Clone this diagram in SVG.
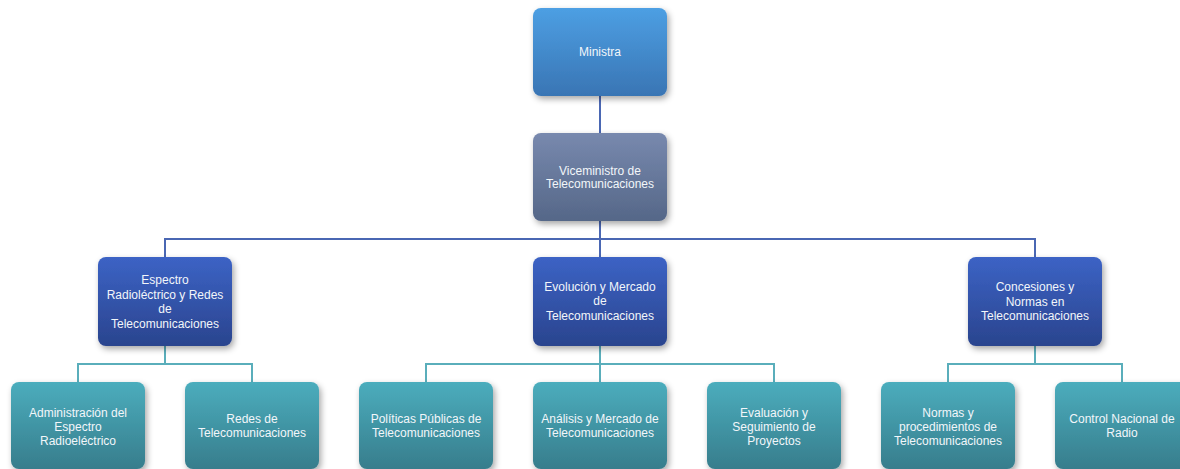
<svg xmlns="http://www.w3.org/2000/svg" width="1180" height="469" viewBox="0 0 1180 469">
<defs>
<linearGradient id="gMin" x1="0" y1="0" x2="0" y2="1"><stop offset="0" stop-color="#4d9fe3"/><stop offset="1" stop-color="#3975b4"/></linearGradient>
<linearGradient id="gVice" x1="0" y1="0" x2="0" y2="1"><stop offset="0" stop-color="#7889ae"/><stop offset="1" stop-color="#556788"/></linearGradient>
<linearGradient id="gL2" x1="0" y1="0" x2="0" y2="1"><stop offset="0" stop-color="#3c63c5"/><stop offset="1" stop-color="#2a448e"/></linearGradient>
<linearGradient id="gL3" x1="0" y1="0" x2="0" y2="1"><stop offset="0" stop-color="#4badbd"/><stop offset="1" stop-color="#377d8c"/></linearGradient>
<filter id="sh" x="-20%" y="-20%" width="140%" height="150%"><feDropShadow dx="2" dy="3" stdDeviation="3" flood-color="#000" flood-opacity="0.35"/></filter>
</defs>
<style>
text{font-family:"Liberation Sans",Arial,sans-serif;font-size:12px;fill:#f2f6fa;text-anchor:middle}
.box{filter:url(#sh)}
.c1{fill:none;stroke:#4a67b3;stroke-width:2}
.c2{fill:none;stroke:#5aaebb;stroke-width:2}
</style>
<rect width="1180" height="469" fill="#ffffff"/>
<g id="connectors">
<path class="c1" d="M600 96V133M600 221V239M165 257V239H1035V257M600 239V257"/>
<path class="c2" d="M165 346V364M78 382V364H252V382M600 346V364M426 382V364H774V382M600 364V382M1035 346V364M948 382V364H1122V382"/>
</g>
<g id="ministra"><rect class="box" x="533" y="8" width="134" height="88" rx="8" fill="url(#gMin)"/><text x="600" y="56">Ministra</text></g>
<g id="viceministro"><rect class="box" x="533" y="133" width="134" height="88" rx="8" fill="url(#gVice)"/><text x="600" y="175">Viceministro de</text><text x="600" y="188">Telecomunicaciones</text></g>
<g id="espectro"><rect class="box" x="98" y="257" width="134" height="89" rx="8" fill="url(#gL2)"/><text x="165" y="284">Espectro</text><text x="165" y="298.5">Radioléctrico y Redes</text><text x="165" y="313">de</text><text x="165" y="327.5">Telecomunicaciones</text></g>
<g id="evolucion"><rect class="box" x="533" y="257" width="134" height="89" rx="8" fill="url(#gL2)"/><text x="600" y="291">Evolución y Mercado</text><text x="600" y="305">de</text><text x="600" y="320">Telecomunicaciones</text></g>
<g id="concesiones"><rect class="box" x="968" y="257" width="134" height="89" rx="8" fill="url(#gL2)"/><text x="1035" y="291">Concesiones y</text><text x="1035" y="306">Normas en</text><text x="1035" y="320">Telecomunicaciones</text></g>
<g id="administracion"><rect class="box" x="11" y="382" width="134" height="87" rx="8" fill="url(#gL3)"/><text x="78" y="417">Administración del</text><text x="78" y="431">Espectro</text><text x="78" y="445">Radioeléctrico</text></g>
<g id="redes"><rect class="box" x="185" y="382" width="134" height="87" rx="8" fill="url(#gL3)"/><text x="252" y="423">Redes de</text><text x="252" y="437">Telecomunicaciones</text></g>
<g id="politicas"><rect class="box" x="359" y="382" width="134" height="87" rx="8" fill="url(#gL3)"/><text x="426" y="423">Políticas Públicas de</text><text x="426" y="437">Telecomunicaciones</text></g>
<g id="analisis"><rect class="box" x="533" y="382" width="134" height="87" rx="8" fill="url(#gL3)"/><text x="600" y="423">Análisis y Mercado de</text><text x="600" y="437">Telecomunicaciones</text></g>
<g id="evaluacion"><rect class="box" x="707" y="382" width="134" height="87" rx="8" fill="url(#gL3)"/><text x="774" y="417">Evaluación y</text><text x="774" y="431">Seguimiento de</text><text x="774" y="445">Proyectos</text></g>
<g id="normas"><rect class="box" x="881" y="382" width="134" height="87" rx="8" fill="url(#gL3)"/><text x="948" y="417">Normas y</text><text x="948" y="431">procedimientos de</text><text x="948" y="445">Telecomunicaciones</text></g>
<g id="control"><rect class="box" x="1055" y="382" width="134" height="87" rx="8" fill="url(#gL3)"/><text x="1122" y="423">Control Nacional de</text><text x="1122" y="437">Radio</text></g>
</svg>
